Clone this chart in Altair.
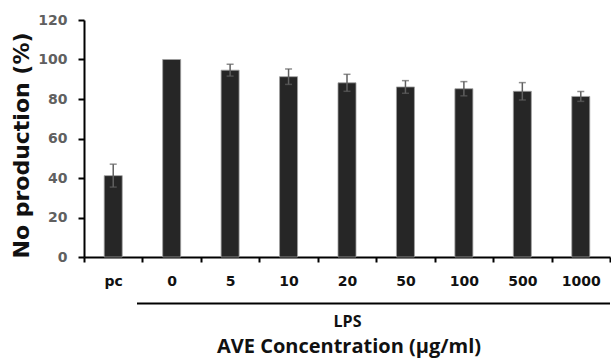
import altair as alt
import pandas as pd

categories = ["pc", "0", "5", "10", "20", "50", "100", "500", "1000"]
values = [41.2, 100.0, 94.6, 91.3, 88.2, 86.1, 85.2, 83.9, 81.3]
errors = [5.8, 0.0, 3.0, 3.9, 4.3, 3.2, 3.6, 4.4, 2.5]
y_ticks = [0, 20, 40, 60, 80, 100, 120]

df = pd.DataFrame({"cat": categories, "val": values, "err": errors})
df["lo"] = df["val"] - df["err"]
df["hi"] = df["val"] + df["err"]

W, H = 526, 237

xaxis = alt.Axis(
    title="AVE Concentration (\u03bcg/ml)",
    titleFont="Open Sans",
    titleFontSize=20,
    titleFontWeight="bold",
    titleColor="#111111",
    titleX=264.5,
    titleY=95,
    titleAlign="center",
    titleBaseline="alphabetic",
    labelAngle=0,
    labelFont="DejaVu Sans",
    labelFontSize=14,
    labelFontWeight="bold",
    labelColor="#111111",
    labelBaseline="alphabetic",
    labelPadding=23,
    labelOverlap=False,
    tickBand="extent",
    tickSize=5,
    tickWidth=2,
    tickColor="#000000",
    domainColor="#000000",
    domainWidth=2,
    grid=False,
)

yaxis = alt.Axis(
    values=y_ticks,
    title="No production (%)",
    titleFont="DejaVu Sans",
    titleFontSize=22,
    titleFontWeight="bold",
    titleColor="#111111",
    titleX=-55.7,
    titleY=125,
    titleAngle=270,
    titleAlign="center",
    titleBaseline="alphabetic",
    labelFont="DejaVu Sans",
    labelFontSize=14,
    labelFontWeight="bold",
    labelColor="#606060",
    labelPadding=11,
    labelOverlap=False,
    labelFlush=False,
    tickSize=6,
    tickWidth=2,
    tickColor="#000000",
    domainColor="#000000",
    domainWidth=2,
    grid=False,
)

xscale = alt.Scale(paddingInner=0, paddingOuter=0)
yscale = alt.Scale(domain=[0, 120], nice=False)

X = alt.X("cat:N", sort=categories, scale=xscale, axis=xaxis)

bars = alt.Chart(df).mark_bar(
    size=18, color="#262626", stroke="#a0a0a0", strokeWidth=0.8
).encode(
    x=X,
    y=alt.Y("val:Q", scale=yscale, axis=yaxis),
)

err_df = df[df["err"] > 0]

rules = alt.Chart(err_df).mark_rule(color="#606060", strokeWidth=1.5).encode(
    x=X,
    y=alt.Y("lo:Q", scale=yscale, axis=yaxis),
    y2="hi:Q",
)

caps_hi = alt.Chart(err_df).mark_tick(color="#606060", size=7, thickness=1.5).encode(
    x=X,
    y=alt.Y("hi:Q", scale=yscale, axis=yaxis),
)
caps_lo = alt.Chart(err_df).mark_tick(color="#606060", size=7, thickness=1.5).encode(
    x=X,
    y=alt.Y("lo:Q", scale=yscale, axis=yaxis),
)

lps_line = alt.Chart(pd.DataFrame({"a": [0]})).mark_rule(
    color="#000000", strokeWidth=2
).encode(x=alt.value(53), x2=alt.value(526), y=alt.value(283.5))

lps_text = alt.Chart(pd.DataFrame({"t": ["LPS"]})).mark_text(
    font="Open Sans", fontSize=16, fontWeight="bold", color="#111111",
    align="center", baseline="alphabetic"
).encode(x=alt.value(263.5), y=alt.value(306.7), text="t:N")

chart = alt.layer(bars, rules, caps_hi, caps_lo, lps_line, lps_text).properties(
    width=W,
    height=H,
    autosize=alt.AutoSizeParams(type="none"),
    padding={"left": 84, "top": 20, "right": 1, "bottom": 101},
    background="white",
).configure_view(stroke=None)

chart.save("out.html", embed_options={"renderer": "svg", "actions": False})
